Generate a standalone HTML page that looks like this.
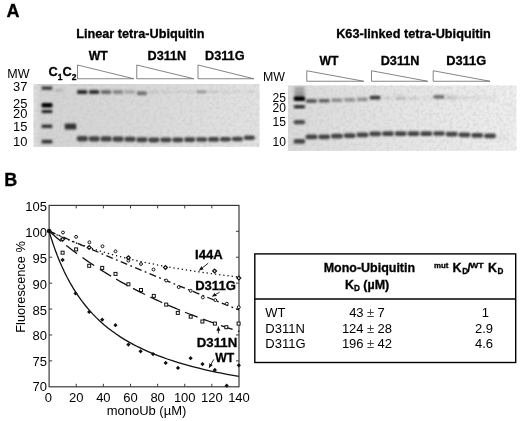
<!DOCTYPE html>
<html lang="en"><head><meta charset="utf-8"><title>Figure</title>
<style>html,body{margin:0;padding:0;background:#fff}body{width:520px;height:421px;overflow:hidden}svg{display:block;font-family:"Liberation Sans",Arial,Helvetica,sans-serif;fill:#000}.b{font-weight:bold;stroke:#000;stroke-width:.3}.ax{stroke:#3a3a3a;stroke-width:1.2;fill:none}.tk{stroke:#3a3a3a;stroke-width:1}.tri{fill:#fff;stroke:#666;stroke-width:0.8}.ln{fill:none;stroke:#111;stroke-width:1.3}.mk{fill:#fff;stroke:#111;stroke-width:1}.fd{fill:#111;stroke:none}.od{fill:#fff;stroke:#111;stroke-width:1.25}.ar{stroke:#111;stroke-width:0.9;fill:none}</style></head><body>
<svg width="520" height="421" viewBox="0 0 520 421">
<defs><filter id="bl" x="-20%" y="-50%" width="140%" height="200%"><feGaussianBlur stdDeviation="0.9 0.8"/></filter><filter id="bl3" x="-20%" y="-50%" width="140%" height="200%"><feGaussianBlur stdDeviation="0.95 0.9"/></filter><filter id="bl2" x="-20%" y="-50%" width="140%" height="200%"><feGaussianBlur stdDeviation="1.4 1.2"/></filter><filter id="ns" x="0" y="0" width="100%" height="100%"><feTurbulence type="fractalNoise" baseFrequency="0.3" numOctaves="2" seed="4" result="n"/><feColorMatrix type="matrix" values="0 0 0 0 0.5  0 0 0 0 0.5  0 0 0 0 0.5  1.6 0 0 0 -0.62"/></filter><linearGradient id="g1" x1="0" x2="1" y1="0" y2="0"><stop offset="0" stop-color="#e0e0e0"/><stop offset="0.03" stop-color="#d3d3d3"/><stop offset="0.4" stop-color="#d8d8d8"/><stop offset="0.75" stop-color="#dedede"/><stop offset="1" stop-color="#e2e2e2"/></linearGradient><linearGradient id="g2" x1="0" x2="1" y1="0" y2="0"><stop offset="0" stop-color="#dadada"/><stop offset="0.5" stop-color="#e5e5e5"/><stop offset="1" stop-color="#eeeeee"/></linearGradient><marker id="ah" viewBox="0 0 10 10" refX="9" refY="5" markerWidth="5" markerHeight="5" orient="auto-start-reverse"><path d="M0 0.5 L10 5 L0 9.5 z" fill="#111"/></marker></defs>
<text x="6.5" y="17" font-size="18" class="b">A</text>
<text x="4.3" y="185.5" font-size="18" class="b">B</text>
<text x="76.2" y="37.9" font-size="12.5" class="b" textLength="128.3" lengthAdjust="spacingAndGlyphs">Linear tetra-Ubiquitin</text>
<text x="88.7" y="59.6" font-size="12.5" class="b" textLength="19" lengthAdjust="spacingAndGlyphs">WT</text>
<text x="147.5" y="59.9" font-size="12.5" class="b" textLength="38.8" lengthAdjust="spacingAndGlyphs">D311N</text>
<text x="205" y="59.9" font-size="12.5" class="b" textLength="39.5" lengthAdjust="spacingAndGlyphs">D311G</text>
<path class="tri" d="M77.5 65 L77.5 78.75 L133.75 78.75 Z"/>
<path class="tri" d="M136.75 65 L136.75 78.75 L193.75 78.75 Z"/>
<path class="tri" d="M198 65 L198 78.75 L253.75 78.75 Z"/>
<text x="7.3" y="77.8" font-size="12.5" textLength="22.2" lengthAdjust="spacingAndGlyphs">MW</text>
<text x="48.6" y="76" font-size="12.8" class="b">C<tspan font-size="8.5" dy="3.6">1</tspan><tspan dy="-3.6">C</tspan><tspan font-size="8.5" dy="3.6">2</tspan></text>
<text x="13" y="91.2" font-size="13" textLength="14.4" lengthAdjust="spacingAndGlyphs">37</text>
<text x="13" y="108.4" font-size="13" textLength="14.4" lengthAdjust="spacingAndGlyphs">25</text>
<text x="13" y="117.8" font-size="13" textLength="14.4" lengthAdjust="spacingAndGlyphs">20</text>
<text x="13" y="131.3" font-size="13" textLength="14.4" lengthAdjust="spacingAndGlyphs">15</text>
<text x="13" y="145.6" font-size="13" textLength="14.4" lengthAdjust="spacingAndGlyphs">10</text>
<g><rect x="33.5" y="84" width="226.0" height="62.80000000000001" fill="url(#g1)"/>
<rect x="33.5" y="84" width="226.0" height="62.80000000000001" filter="url(#ns)" opacity="0.5"/>
<rect x="41.60" y="86.50" width="10.80" height="3.20" rx="1.2" fill="#222" opacity="0.9" filter="url(#bl)"/>
<rect x="41.60" y="103.10" width="10.80" height="4.40" rx="1.2" fill="#000" opacity="1" filter="url(#bl)"/>
<rect x="41.60" y="110.00" width="10.80" height="3.00" rx="1.2" fill="#111" opacity="0.95" filter="url(#bl)"/>
<rect x="41.60" y="124.50" width="10.80" height="3.60" rx="1.2" fill="#222" opacity="0.9" filter="url(#bl)"/>
<rect x="41.60" y="139.80" width="10.80" height="3.60" rx="1.2" fill="#222" opacity="0.9" filter="url(#bl)"/>
<rect x="54.50" y="89.30" width="9.00" height="2.40" rx="1.2" fill="#777" opacity="0.35" filter="url(#bl)"/>
<rect x="64.80" y="123.40" width="11.40" height="6.20" rx="1.2" fill="#2a2a2a" opacity="0.95" filter="url(#bl)"/>
<rect x="77.20" y="90.10" width="10.00" height="4.00" rx="1.2" fill="#2a2a2a" opacity="1" filter="url(#bl)"/>
<rect x="76.70" y="136.00" width="11.20" height="5.40" rx="2.4" fill="#303030" opacity="0.9" filter="url(#bl3)"/>
<rect x="89.13" y="90.10" width="10.00" height="4.00" rx="1.2" fill="#2a2a2a" opacity="0.97" filter="url(#bl)"/>
<rect x="88.63" y="136.14" width="11.20" height="5.33" rx="2.4" fill="#303030" opacity="0.9" filter="url(#bl3)"/>
<rect x="101.06" y="90.10" width="10.00" height="4.00" rx="1.2" fill="#2a2a2a" opacity="0.62" filter="url(#bl)"/>
<rect x="100.56" y="136.27" width="11.20" height="5.26" rx="2.4" fill="#303030" opacity="0.9" filter="url(#bl3)"/>
<rect x="112.99" y="90.10" width="10.00" height="4.00" rx="1.2" fill="#2a2a2a" opacity="0.45" filter="url(#bl)"/>
<rect x="112.49" y="136.50" width="11.20" height="5.19" rx="2.4" fill="#303030" opacity="0.9" filter="url(#bl3)"/>
<rect x="124.92" y="90.10" width="10.00" height="4.00" rx="1.2" fill="#2a2a2a" opacity="0.25" filter="url(#bl)"/>
<rect x="124.42" y="136.74" width="11.20" height="5.12" rx="2.4" fill="#303030" opacity="0.9" filter="url(#bl3)"/>
<rect x="136.85" y="91.30" width="10.00" height="4.00" rx="1.2" fill="#2a2a2a" opacity="0.58" filter="url(#bl)"/>
<rect x="136.35" y="137.17" width="11.20" height="5.05" rx="2.4" fill="#303030" opacity="0.9" filter="url(#bl3)"/>
<rect x="148.78" y="90.40" width="10.00" height="2.80" rx="1.2" fill="#2a2a2a" opacity="0.13" filter="url(#bl)"/>
<rect x="148.28" y="137.41" width="11.20" height="4.98" rx="2.4" fill="#303030" opacity="0.9" filter="url(#bl3)"/>
<rect x="160.71" y="90.40" width="10.00" height="2.80" rx="1.2" fill="#2a2a2a" opacity="0.1" filter="url(#bl)"/>
<rect x="160.21" y="137.44" width="11.20" height="4.91" rx="2.4" fill="#303030" opacity="0.9" filter="url(#bl3)"/>
<rect x="172.64" y="90.40" width="10.00" height="2.80" rx="1.2" fill="#2a2a2a" opacity="0.08" filter="url(#bl)"/>
<rect x="172.14" y="137.38" width="11.20" height="4.84" rx="2.4" fill="#303030" opacity="0.9" filter="url(#bl3)"/>
<rect x="184.57" y="90.40" width="10.00" height="2.80" rx="1.2" fill="#2a2a2a" opacity="0.08" filter="url(#bl)"/>
<rect x="184.07" y="137.31" width="11.20" height="4.77" rx="2.4" fill="#303030" opacity="0.9" filter="url(#bl3)"/>
<rect x="196.50" y="90.40" width="10.00" height="2.80" rx="1.2" fill="#2a2a2a" opacity="0.42" filter="url(#bl)"/>
<rect x="196.00" y="137.15" width="11.20" height="4.70" rx="2.4" fill="#303030" opacity="0.9" filter="url(#bl3)"/>
<rect x="208.43" y="90.40" width="10.00" height="2.80" rx="1.2" fill="#2a2a2a" opacity="0.12" filter="url(#bl)"/>
<rect x="207.93" y="137.09" width="11.20" height="4.63" rx="2.4" fill="#303030" opacity="0.9" filter="url(#bl3)"/>
<rect x="220.36" y="90.40" width="10.00" height="2.80" rx="1.2" fill="#2a2a2a" opacity="0.08" filter="url(#bl)"/>
<rect x="219.86" y="137.02" width="11.20" height="4.56" rx="2.4" fill="#303030" opacity="0.9" filter="url(#bl3)"/>
<rect x="232.29" y="90.40" width="10.00" height="2.80" rx="1.2" fill="#2a2a2a" opacity="0.06" filter="url(#bl)"/>
<rect x="231.79" y="136.75" width="11.20" height="4.49" rx="2.4" fill="#303030" opacity="0.9" filter="url(#bl3)"/>
<rect x="244.22" y="90.40" width="10.00" height="2.80" rx="1.2" fill="#2a2a2a" opacity="0.06" filter="url(#bl)"/>
<rect x="243.72" y="135.59" width="11.20" height="4.42" rx="2.4" fill="#303030" opacity="0.9" filter="url(#bl3)"/>
</g>
<text x="336.2" y="38.3" font-size="12.5" class="b" textLength="154.5" lengthAdjust="spacingAndGlyphs">K63-linked tetra-Ubiquitin</text>
<text x="319.5" y="65" font-size="12.5" class="b" textLength="19" lengthAdjust="spacingAndGlyphs">WT</text>
<text x="380.7" y="65.3" font-size="12.5" class="b" textLength="38.8" lengthAdjust="spacingAndGlyphs">D311N</text>
<text x="446.2" y="65.3" font-size="12.5" class="b" textLength="40" lengthAdjust="spacingAndGlyphs">D311G</text>
<path class="tri" d="M306.75 70.75 L306.75 81.25 L363.75 81.25 Z"/>
<path class="tri" d="M371.5 70.75 L371.5 81.25 L427.75 81.25 Z"/>
<path class="tri" d="M433.2 70.75 L433.2 81.25 L490 81.25 Z"/>
<text x="263" y="81.3" font-size="12.5" textLength="22" lengthAdjust="spacingAndGlyphs">MW</text>
<text x="272.5" y="102" font-size="12.5" textLength="13.4" lengthAdjust="spacingAndGlyphs">25</text>
<text x="272.5" y="112" font-size="12.5" textLength="13.4" lengthAdjust="spacingAndGlyphs">20</text>
<text x="272.5" y="126.3" font-size="12.5" textLength="13.4" lengthAdjust="spacingAndGlyphs">15</text>
<text x="272.5" y="145.5" font-size="12.5" textLength="13.4" lengthAdjust="spacingAndGlyphs">10</text>
<g><rect x="288" y="85.5" width="228.29999999999995" height="65.30000000000001" fill="url(#g2)"/>
<rect x="288" y="85.5" width="228.29999999999995" height="65.30000000000001" filter="url(#ns)" opacity="0.5"/>
<rect x="294.30" y="86.50" width="10.50" height="7.00" rx="1.2" fill="#333" opacity="0.3" filter="url(#bl2)"/>
<rect x="294.50" y="92.50" width="10.10" height="4.00" rx="1.2" fill="#333" opacity="0.35" filter="url(#bl2)"/>
<rect x="293.60" y="96.30" width="11.60" height="4.80" rx="1.8" fill="#000" opacity="1" filter="url(#bl)"/>
<rect x="293.60" y="105.30" width="11.60" height="3.00" rx="1.8" fill="#111" opacity="0.95" filter="url(#bl)"/>
<rect x="293.60" y="119.90" width="11.60" height="4.40" rx="1.8" fill="#333" opacity="0.85" filter="url(#bl3)"/>
<rect x="293.60" y="139.10" width="11.60" height="4.60" rx="1.8" fill="#333" opacity="0.88" filter="url(#bl3)"/>
<rect x="306.00" y="99.20" width="10.75" height="3.60" rx="1.2" fill="#2a2a2a" opacity="0.8" filter="url(#bl)"/>
<rect x="305.50" y="134.55" width="11.95" height="4.70" rx="2.3" fill="#333" opacity="0.9" filter="url(#bl3)"/>
<rect x="318.75" y="98.90" width="10.75" height="3.60" rx="1.2" fill="#2a2a2a" opacity="0.7" filter="url(#bl)"/>
<rect x="318.25" y="134.45" width="11.95" height="4.70" rx="2.3" fill="#333" opacity="0.9" filter="url(#bl3)"/>
<rect x="331.50" y="98.50" width="10.75" height="3.60" rx="1.2" fill="#2a2a2a" opacity="0.46" filter="url(#bl)"/>
<rect x="331.00" y="133.75" width="11.95" height="4.70" rx="2.3" fill="#333" opacity="0.9" filter="url(#bl3)"/>
<rect x="344.25" y="98.10" width="10.75" height="3.60" rx="1.2" fill="#2a2a2a" opacity="0.4" filter="url(#bl)"/>
<rect x="343.75" y="133.25" width="11.95" height="4.70" rx="2.3" fill="#333" opacity="0.9" filter="url(#bl3)"/>
<rect x="357.00" y="97.60" width="10.75" height="3.60" rx="1.2" fill="#2a2a2a" opacity="0.42" filter="url(#bl)"/>
<rect x="356.50" y="132.55" width="11.95" height="4.70" rx="2.3" fill="#333" opacity="0.9" filter="url(#bl3)"/>
<rect x="369.75" y="95.80" width="10.75" height="3.60" rx="1.2" fill="#2a2a2a" opacity="0.92" filter="url(#bl)"/>
<rect x="369.25" y="131.55" width="11.95" height="4.70" rx="2.3" fill="#333" opacity="0.9" filter="url(#bl3)"/>
<rect x="382.50" y="96.20" width="10.75" height="3.60" rx="1.2" fill="#2a2a2a" opacity="0.07" filter="url(#bl)"/>
<rect x="382.00" y="131.35" width="11.95" height="4.70" rx="2.3" fill="#333" opacity="0.9" filter="url(#bl3)"/>
<rect x="395.25" y="96.50" width="10.75" height="3.60" rx="1.2" fill="#2a2a2a" opacity="0.2" filter="url(#bl)"/>
<rect x="394.75" y="131.25" width="11.95" height="4.70" rx="2.3" fill="#333" opacity="0.9" filter="url(#bl3)"/>
<rect x="408.00" y="96.50" width="10.75" height="3.60" rx="1.2" fill="#2a2a2a" opacity="0.1" filter="url(#bl)"/>
<rect x="407.50" y="131.25" width="11.95" height="4.70" rx="2.3" fill="#333" opacity="0.9" filter="url(#bl3)"/>
<rect x="420.75" y="96.20" width="10.75" height="3.60" rx="1.2" fill="#2a2a2a" opacity="0.05" filter="url(#bl)"/>
<rect x="420.25" y="131.25" width="11.95" height="4.70" rx="2.3" fill="#333" opacity="0.9" filter="url(#bl3)"/>
<rect x="433.50" y="95.10" width="10.75" height="3.60" rx="1.2" fill="#2a2a2a" opacity="0.62" filter="url(#bl)"/>
<rect x="433.00" y="131.15" width="11.95" height="4.70" rx="2.3" fill="#333" opacity="0.9" filter="url(#bl3)"/>
<rect x="446.25" y="95.80" width="10.75" height="3.60" rx="1.2" fill="#2a2a2a" opacity="0.18" filter="url(#bl)"/>
<rect x="445.75" y="131.75" width="11.95" height="4.70" rx="2.3" fill="#333" opacity="0.9" filter="url(#bl3)"/>
<rect x="459.00" y="96.00" width="10.75" height="3.60" rx="1.2" fill="#2a2a2a" opacity="0.08" filter="url(#bl)"/>
<rect x="458.50" y="132.45" width="11.95" height="4.70" rx="2.3" fill="#333" opacity="0.9" filter="url(#bl3)"/>
<rect x="471.75" y="96.00" width="10.75" height="3.60" rx="1.2" fill="#2a2a2a" opacity="0.08" filter="url(#bl)"/>
<rect x="471.25" y="133.05" width="11.95" height="4.70" rx="2.3" fill="#333" opacity="0.9" filter="url(#bl3)"/>
<rect x="484.50" y="96.00" width="10.75" height="3.60" rx="1.2" fill="#2a2a2a" opacity="0.05" filter="url(#bl)"/>
<rect x="484.00" y="133.55" width="11.95" height="4.70" rx="2.3" fill="#333" opacity="0.9" filter="url(#bl3)"/>
<rect x="497.00" y="137.20" width="11.00" height="2.60" rx="1.2" fill="#777" opacity="0.12" filter="url(#bl2)"/>
</g>
<rect class="ax" x="49.1" y="205.4" width="189.9" height="181.4"/>
<text x="48.40" y="401.5" font-size="13" text-anchor="middle">0</text>
<path class="tk" d="M76.23 386.8 v-3 M76.23 205.4 v3"/>
<text x="76.23" y="401.5" font-size="13" text-anchor="middle">20</text>
<path class="tk" d="M103.36 386.8 v-3 M103.36 205.4 v3"/>
<text x="103.36" y="401.5" font-size="13" text-anchor="middle">40</text>
<path class="tk" d="M130.49 386.8 v-3 M130.49 205.4 v3"/>
<text x="130.49" y="401.5" font-size="13" text-anchor="middle">60</text>
<path class="tk" d="M157.61 386.8 v-3 M157.61 205.4 v3"/>
<text x="157.61" y="401.5" font-size="13" text-anchor="middle">80</text>
<path class="tk" d="M184.74 386.8 v-3 M184.74 205.4 v3"/>
<text x="184.74" y="401.5" font-size="13" text-anchor="middle">100</text>
<path class="tk" d="M211.87 386.8 v-3 M211.87 205.4 v3"/>
<text x="211.87" y="401.5" font-size="13" text-anchor="middle">120</text>
<text x="239.00" y="401.5" font-size="13" text-anchor="middle">140</text>
<text x="46.9" y="391.30" font-size="13" text-anchor="end">70</text>
<path class="tk" d="M49.1 360.89 h3 M239.0 360.89 h-3"/>
<text x="46.9" y="366.39" font-size="13" text-anchor="end">75</text>
<path class="tk" d="M49.1 334.97 h3 M239.0 334.97 h-3"/>
<text x="46.9" y="340.47" font-size="13" text-anchor="end">80</text>
<path class="tk" d="M49.1 309.06 h3 M239.0 309.06 h-3"/>
<text x="46.9" y="314.56" font-size="13" text-anchor="end">85</text>
<path class="tk" d="M49.1 283.14 h3 M239.0 283.14 h-3"/>
<text x="46.9" y="288.64" font-size="13" text-anchor="end">90</text>
<path class="tk" d="M49.1 257.23 h3 M239.0 257.23 h-3"/>
<text x="46.9" y="262.73" font-size="13" text-anchor="end">95</text>
<path class="tk" d="M49.1 231.31 h3 M239.0 231.31 h-3"/>
<text x="46.9" y="236.81" font-size="13" text-anchor="end">100</text>
<text x="46.9" y="210.90" font-size="13" text-anchor="end">105</text>
<text x="146.5" y="415.1" font-size="13" text-anchor="middle">monoUb (µM)</text>
<text transform="translate(24.5,287) rotate(-90)" font-size="12.8" text-anchor="middle" textLength="91.5" lengthAdjust="spacingAndGlyphs">Fluorescence %</text>
<path class="ln" d="M49.00 231.00 L49.57 232.92 L50.62 236.33 L51.97 240.57 L53.57 245.34 L55.38 250.45 L57.39 255.77 L59.58 261.17 L61.92 266.60 L64.42 271.97 L67.06 277.26 L69.83 282.42 L72.74 287.44 L75.77 292.29 L78.91 296.96 L82.17 301.46 L85.55 305.77 L89.03 309.90 L92.61 313.84 L96.29 317.61 L100.07 321.21 L103.95 324.65 L107.92 327.92 L111.99 331.04 L116.14 334.02 L120.38 336.86 L124.70 339.57 L129.11 342.15 L133.61 344.61 L138.18 346.96 L142.83 349.20 L147.56 351.34 L152.37 353.39 L157.25 355.34 L162.21 357.21 L167.24 358.99 L172.34 360.70 L177.52 362.34 L182.76 363.90 L188.08 365.41 L193.46 366.85 L198.91 368.23 L204.43 369.55 L210.01 370.82 L215.66 372.04 L221.38 373.22 L227.16 374.35 L233.00 375.43 L238.90 376.48"/>
<path class="ln" d="M49.00 231.00 L51.46 233.17 L53.92 235.30 L56.38 237.39 L58.84 239.45 L61.30 241.48"/>
<path class="ln" d="M66.20 245.41 L68.36 247.10 L70.52 248.76 L72.68 250.41 L74.84 252.03 L77.00 253.62"/>
<path class="ln" d="M82.50 257.59 L84.84 259.23 L87.18 260.86 L89.52 262.45 L91.86 264.03 L94.20 265.58"/>
<path class="ln" d="M99.80 269.20 L102.04 270.62 L104.28 272.01 L106.52 273.39 L108.76 274.75 L111.00 276.09"/>
<path class="ln" d="M116.20 279.13 L118.56 280.49 L120.92 281.82 L123.28 283.14 L125.64 284.43 L128.00 285.72"/>
<path class="ln" d="M133.00 288.38 L135.40 289.63 L137.80 290.86 L140.20 292.08 L142.60 293.28 L145.00 294.47"/>
<path class="ln" d="M150.40 297.09 L152.76 298.21 L155.12 299.31 L157.48 300.41 L159.84 301.49 L162.20 302.55"/>
<path class="ln" d="M167.70 304.99 L170.20 306.07 L172.70 307.15 L175.20 308.21 L177.70 309.25 L180.20 310.28"/>
<path class="ln" d="M185.00 312.23 L187.52 313.24 L190.04 314.23 L192.56 315.21 L195.08 316.18 L197.60 317.14"/>
<path class="ln" d="M203.20 319.23 L205.64 320.12 L208.08 321.00 L210.52 321.88 L212.96 322.74 L215.40 323.59"/>
<path class="ln" d="M221.00 325.52 L223.32 326.30 L225.64 327.08 L227.96 327.85 L230.28 328.61 L232.60 329.36"/>
<path class="ln" d="M238.00 331.08 L238.24 331.16 L238.48 331.23 L238.72 331.31 L238.96 331.38 L239.20 331.46"/>
<path class="ln" d="M49.00 231.00 L51.97 232.29 L57.39 234.65 L64.42 237.69 L72.74 241.27 L82.17 245.32 L92.61 249.78 L103.95 254.59 L116.14 259.74 L129.11 265.18 L142.83 270.90 L157.25 276.87 L172.34 283.07 L188.08 289.48 L204.43 296.10 L221.38 302.89 L238.90 309.87" stroke-dasharray="7 3.4 1.8 3.4"/>
<path class="ln" d="M49.00 231.00 L50.62 231.81 L53.57 233.26 L57.39 235.06 L61.92 237.10 L67.06 239.30 L72.74 241.60 L78.91 243.95 L85.55 246.33 L92.61 248.70 L100.07 251.04 L107.92 253.34 L116.14 255.59 L124.70 257.77 L133.61 259.89 L142.83 261.94 L152.37 263.91 L162.21 265.81 L172.34 267.63 L182.76 269.38 L193.46 271.05 L204.43 272.66 L215.66 274.20 L227.16 275.67 L238.90 277.08" stroke-dasharray="1.3 2.9" stroke-width="1.05"/>
<circle class="mk" cx="63" cy="232.5" r="1.45"/>
<circle class="mk" cx="76.1" cy="236.8" r="1.45"/>
<circle class="mk" cx="89.4" cy="242.3" r="1.45"/>
<circle class="mk" cx="102.5" cy="246.3" r="1.45"/>
<circle class="mk" cx="115.5" cy="251.3" r="1.45"/>
<circle class="mk" cx="128.4" cy="260.6" r="1.45"/>
<circle class="mk" cx="141" cy="264" r="1.45"/>
<circle class="mk" cx="153.5" cy="269.5" r="1.45"/>
<circle class="mk" cx="166.2" cy="280.5" r="1.45"/>
<circle class="mk" cx="178.7" cy="287.1" r="1.45"/>
<circle class="mk" cx="190.7" cy="290.8" r="1.45"/>
<circle class="mk" cx="202.8" cy="297.4" r="1.45"/>
<circle class="mk" cx="215.3" cy="300.1" r="1.45"/>
<circle class="mk" cx="226.8" cy="303.7" r="1.45"/>
<circle class="mk" cx="238.8" cy="307.2" r="1.45"/>
<rect class="mk" x="61.10" y="251.20" width="3" height="3"/>
<rect class="mk" x="74.60" y="247.90" width="3" height="3"/>
<rect class="mk" x="87.70" y="264.30" width="3" height="3"/>
<rect class="mk" x="100.70" y="266.40" width="3" height="3"/>
<rect class="mk" x="114.00" y="272.40" width="3" height="3"/>
<rect class="mk" x="126.90" y="282.80" width="3" height="3"/>
<rect class="mk" x="139.50" y="288.50" width="3" height="3"/>
<rect class="mk" x="152.30" y="294.40" width="3" height="3"/>
<rect class="mk" x="164.70" y="303.10" width="3" height="3"/>
<rect class="mk" x="176.30" y="311.40" width="3" height="3"/>
<rect class="mk" x="189.20" y="315.20" width="3" height="3"/>
<rect class="mk" x="200.90" y="320.00" width="3" height="3"/>
<rect class="mk" x="213.40" y="322.10" width="3" height="3"/>
<rect class="mk" x="224.80" y="325.70" width="3" height="3"/>
<rect class="mk" x="237.10" y="322.10" width="3" height="3"/>
<path class="fd" d="M46.85 231 L49 228.85 L51.15 231 L49 233.15 Z"/>
<path class="fd" d="M60.45 259.9 L62.6 257.75 L64.75 259.9 L62.6 262.05 Z"/>
<path class="fd" d="M73.45 293.4 L75.6 291.25 L77.75 293.4 L75.6 295.55 Z"/>
<path class="fd" d="M87.05 311.9 L89.2 309.75 L91.35 311.9 L89.2 314.05 Z"/>
<path class="fd" d="M100.05 319.7 L102.2 317.55 L104.35 319.7 L102.2 321.85 Z"/>
<path class="fd" d="M113.35 325.2 L115.5 323.05 L117.65 325.2 L115.5 327.35 Z"/>
<path class="fd" d="M126.25 344.6 L128.4 342.45 L130.55 344.6 L128.4 346.75 Z"/>
<path class="fd" d="M138.45 351.3 L140.6 349.15 L142.75 351.3 L140.6 353.45 Z"/>
<path class="fd" d="M150.85 354.1 L153 351.95 L155.15 354.1 L153 356.25 Z"/>
<path class="fd" d="M163.55 362.9 L165.7 360.75 L167.85 362.9 L165.7 365.05 Z"/>
<path class="fd" d="M175.85 367.9 L178 365.75 L180.15 367.9 L178 370.05 Z"/>
<path class="fd" d="M188.45 358.2 L190.6 356.05 L192.75 358.2 L190.6 360.35 Z"/>
<path class="fd" d="M200.35 364.1 L202.5 361.95 L204.65 364.1 L202.5 366.25 Z"/>
<path class="fd" d="M212.65 370 L214.8 367.85 L216.95 370 L214.8 372.15 Z"/>
<path class="fd" d="M224.55 385.7 L226.7 383.55 L228.85 385.7 L226.7 387.85 Z"/>
<path class="fd" d="M236.65 365.3 L238.8 363.15 L240.95 365.3 L238.8 367.45 Z"/>
<circle cx="49.1" cy="231" r="2.3" fill="#111"/>
<path class="od" d="M60.70 239.2 L62.6 237.30 L64.50 239.2 L62.6 241.10 Z"/>
<path class="od" d="M87.30 247.5 L89.2 245.60 L91.10 247.5 L89.2 249.40 Z"/>
<path class="od" d="M126.50 257.7 L128.4 255.80 L130.30 257.7 L128.4 259.60 Z"/>
<path class="od" d="M163.60 267.5 L165.5 265.60 L167.40 267.5 L165.5 269.40 Z"/>
<path class="od" d="M212.70 271 L214.6 269.10 L216.50 271 L214.6 272.90 Z"/>
<path class="od" d="M236.90 278 L238.8 276.10 L240.70 278 L238.8 279.90 Z"/>
<text x="195" y="259.4" font-size="13" class="b" textLength="27.6" lengthAdjust="spacingAndGlyphs">I44A</text>
<text x="195.2" y="290.2" font-size="13" class="b" textLength="40.6" lengthAdjust="spacingAndGlyphs">D311G</text>
<text x="196.8" y="347.3" font-size="13" class="b" textLength="40.4" lengthAdjust="spacingAndGlyphs">D311N</text>
<text x="215.2" y="362" font-size="13" class="b" textLength="19" lengthAdjust="spacingAndGlyphs">WT</text>
<path class="ar" d="M208.2 263.2 L199.4 270.3" marker-end="url(#ah)"/>
<path class="ar" d="M219.6 292.2 L212.4 296.3" marker-end="url(#ah)"/>
<path class="ar" d="M218.4 333.4 L218.4 326.6" marker-end="url(#ah)"/>
<path class="ar" d="M213.8 359.4 L209.2 367.6" marker-end="url(#ah)"/>
<rect x="254.8" y="253.9" width="260.9" height="108.6" fill="#fff" stroke="#000" stroke-width="1.4"/>
<path d="M254.8 299 H515.7" stroke="#000" stroke-width="1.4"/>
<text x="323.7" y="271.8" font-size="12.5" class="b" textLength="91.4" lengthAdjust="spacingAndGlyphs">Mono-Ubiquitin</text>
<text x="344.9" y="289.1" font-size="12.5" class="b">K<tspan font-size="8.2" dy="2.2">D</tspan><tspan dy="-2.2"> (µM)</tspan></text>
<text class="b" font-size="12.5"><tspan x="434" y="268.3" font-size="7.6" textLength="14.4" lengthAdjust="spacingAndGlyphs">mut</tspan><tspan> </tspan><tspan x="452.6" y="271.5">K</tspan><tspan x="462.2" y="274.4" font-size="8.2">D</tspan><tspan x="467.3" y="271.5">/</tspan><tspan x="470" y="268.3" font-size="7.6" textLength="13.6" lengthAdjust="spacingAndGlyphs">WT</tspan><tspan> </tspan><tspan x="488" y="271.5">K</tspan><tspan x="497.6" y="274.4" font-size="8.2">D</tspan></text>
<text x="265.3" y="316.9" font-size="13">WT</text>
<text x="363.6" y="316.9" font-size="13" text-anchor="end">43</text>
<text x="370.5" y="316.9" font-size="13" text-anchor="middle" fill="#444">±</text>
<text x="377.6" y="316.9" font-size="13">7</text>
<text x="485.3" y="316.9" font-size="13" text-anchor="middle">1</text>
<text x="265.3" y="332.6" font-size="13">D311N</text>
<text x="363.6" y="332.6" font-size="13" text-anchor="end">124</text>
<text x="370.5" y="332.6" font-size="13" text-anchor="middle" fill="#444">±</text>
<text x="377.6" y="332.6" font-size="13">28</text>
<text x="484" y="332.6" font-size="13" text-anchor="middle">2.9</text>
<text x="265.3" y="347.8" font-size="13">D311G</text>
<text x="363.6" y="347.8" font-size="13" text-anchor="end">196</text>
<text x="370.5" y="347.8" font-size="13" text-anchor="middle" fill="#444">±</text>
<text x="377.6" y="347.8" font-size="13">42</text>
<text x="484" y="347.8" font-size="13" text-anchor="middle">4.6</text>
</svg></body></html>
